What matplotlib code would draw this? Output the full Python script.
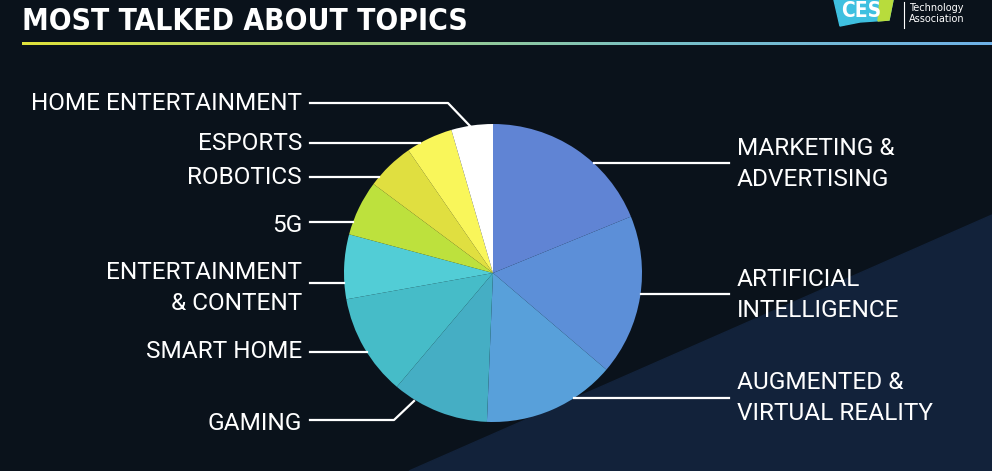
import numpy as np
import matplotlib.pyplot as plt
from matplotlib import font_manager
from matplotlib.patches import Polygon
from matplotlib.colors import LinearSegmentedColormap

# Datos (lectura aproximada de la imagen, en porcentaje)
temas = ["MARKETING &\nADVERTISING", "ARTIFICIAL\nINTELLIGENCE", "AUGMENTED &\nVIRTUAL REALITY",
         "GAMING", "SMART HOME", "ENTERTAINMENT\n& CONTENT", "5G", "ROBOTICS", "ESPORTS",
         "HOME ENTERTAINMENT"]
porcentajes = [18.8, 17.4, 14.4, 10.5, 11.0, 7.0, 6.0, 5.2, 5.1, 4.5]
colores = ["#6084d4", "#5c8fd8", "#58a0da", "#45aec4", "#46bcc8", "#52cdd6",
           "#bde13d", "#e0df40", "#f9f65a", "#ffffff"]

# Posicion de las etiquetas (px): lado, y de la linea, y del texto
lados = ["R", "R", "R", "L", "L", "L", "L", "L", "L", "L"]
y_linea = [163, 294, 398, 420, 352, 283, 222, 177, 143, 103]
y_texto = [164, 295, 398, 423, 352, 288, 225, 177, 143, 103]

W, H = 992, 471
fondo = "#0a121b"
cx, cy, r = 493, 273, 149

# fuente condensada para el titulo
titulo_kw = dict(family="DejaVu Sans", fontstretch="condensed")
nombres = [f.name for f in font_manager.fontManager.ttflist]
if "Liberation Sans Narrow" in nombres:
    titulo_kw = dict(family="Liberation Sans Narrow")

fig = plt.figure(figsize=(W / 100, H / 100), dpi=100, facecolor=fondo)
ax = fig.add_axes([0, 0, 1, 1])
ax.set_facecolor(fondo)

# triangulo mas claro abajo a la derecha
ax.add_patch(Polygon([(409, H), (W, 215), (W, H)], closed=True, color="#12223a", zorder=0))

# titulo y linea degradada
ax.text(22, 21, "MOST TALKED ABOUT TOPICS", color="white", fontsize=21.5, fontweight="bold",
        va="center", ha="left", **titulo_kw)
grad = LinearSegmentedColormap.from_list("g", ["#dfe23c", "#a6d07a", "#78c0c8", "#6fb2e8"])
ax.imshow(np.linspace(0, 1, 256).reshape(1, -1), cmap=grad, aspect="auto",
          extent=(22, W, 45.5, 42.5), zorder=1)

# logo CES (aproximado)
ax.add_patch(Polygon([(834, 0), (893, 0), (889, 20), (860, 22), (840, 26)], closed=True,
                     color="#3fc0e0", zorder=2))
ax.add_patch(Polygon([(880, 0), (893, 0), (889, 20), (878, 21)], closed=True,
                     color="#b8dc3c", zorder=2))
ax.text(861, 11, "CES", color="white", fontsize=15, fontweight="bold",
        ha="center", va="center", zorder=3, **titulo_kw)
ax.plot([904, 904], [2, 28], color="white", lw=0.8)
ax.text(909, 8, "Technology", color="white", fontsize=7, va="center", ha="left")
ax.text(909, 19, "Association", color="white", fontsize=7, va="center", ha="left")

# pastel (eje y invertido -> sentido horario desde arriba)
ax.pie(porcentajes, colors=colores, startangle=-90, counterclock=True, center=(cx, cy),
       radius=r, wedgeprops=dict(linewidth=0))

fuente = ["Roboto", "DejaVu Sans"]
for tema, lado, yl, yt in zip(temas, lados, y_linea, y_texto):
    dy = yl - cy
    borde = np.sqrt(max(r ** 2 - dy ** 2, 0))
    if lado == "R":
        ax.plot([cx + borde, 729], [yl, yl], color="white", lw=1.6, zorder=4)
        ax.text(737, yt, tema, color="white", fontsize=17.6, family=fuente, ha="left",
                va="center", linespacing=1.45)
    else:
        if tema == "HOME ENTERTAINMENT":
            ax.plot([310, 448, 470], [yl, yl, 126], color="white", lw=1.6, zorder=4)
        elif tema == "GAMING":
            ax.plot([310, 394, 414], [yl, yl, 401], color="white", lw=1.6, zorder=4)
        else:
            ax.plot([310, cx - borde], [yl, yl], color="white", lw=1.6, zorder=4)
        ax.text(302, yt, tema, color="white", fontsize=17.6, family=fuente, ha="right",
                va="center", linespacing=1.4, multialignment="right")

ax.set_xlim(0, W)
ax.set_ylim(H, 0)
ax.set_aspect("auto")
ax.axis("off")

fig.savefig("out.png", dpi=100, facecolor=fondo)
